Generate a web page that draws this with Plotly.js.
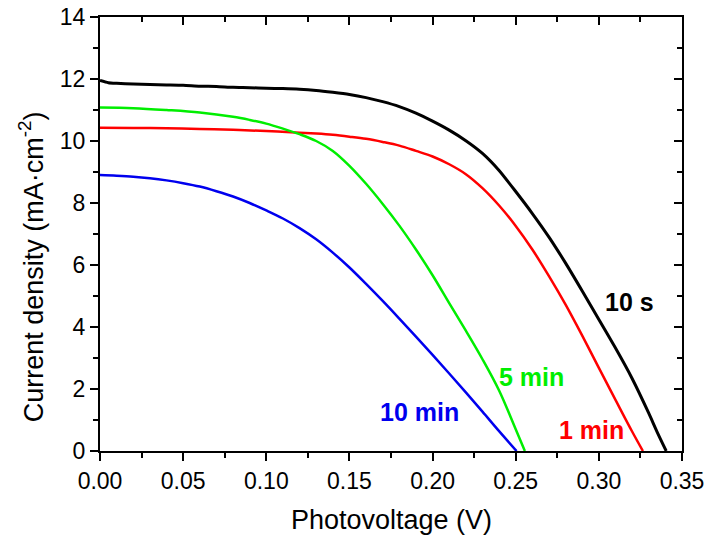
<!DOCTYPE html>
<html>
<head>
<meta charset="utf-8">
<script src="https://cdn.plot.ly/plotly-3.0.1.min.js"></script>
<style>html,body{margin:0;padding:0;background:#fff;}#chart{width:709px;height:540px;}</style>
</head>
<body>
<div id="chart"></div>
<script>
// 10 s (black)
const v10s = [0, 0.005, 0.01, 0.02, 0.03, 0.04, 0.05, 0.06, 0.07, 0.08, 0.09, 0.10, 0.11, 0.12, 0.13, 0.14, 0.15, 0.16, 0.17, 0.18, 0.19, 0.20, 0.21, 0.22, 0.23, 0.24, 0.25, 0.26, 0.27, 0.28, 0.29, 0.30, 0.31, 0.32, 0.33, 0.335, 0.3405];
const j10s = [11.95, 11.88, 11.86, 11.84, 11.82, 11.81, 11.80, 11.77, 11.76, 11.73, 11.72, 11.70, 11.69, 11.67, 11.63, 11.57, 11.50, 11.40, 11.27, 11.11, 10.90, 10.64, 10.35, 10.01, 9.60, 9.05, 8.37, 7.66, 6.90, 6.06, 5.16, 4.24, 3.32, 2.34, 1.22, 0.62, 0];
// 1 min (red)
const v1m = [0, 0.02, 0.04, 0.06, 0.08, 0.10, 0.12, 0.13, 0.14, 0.15, 0.16, 0.17, 0.18, 0.19, 0.20, 0.21, 0.22, 0.23, 0.24, 0.25, 0.26, 0.27, 0.28, 0.29, 0.30, 0.31, 0.32, 0.3265];
const j1m = [10.43, 10.42, 10.41, 10.39, 10.36, 10.32, 10.27, 10.24, 10.20, 10.14, 10.07, 9.97, 9.85, 9.68, 9.50, 9.25, 8.93, 8.48, 7.92, 7.26, 6.50, 5.64, 4.72, 3.72, 2.68, 1.65, 0.63, 0];
// 5 min (green)
const v5m = [0, 0.02, 0.04, 0.06, 0.08, 0.09, 0.10, 0.11, 0.12, 0.13, 0.14, 0.15, 0.16, 0.17, 0.18, 0.19, 0.20, 0.21, 0.22, 0.23, 0.24, 0.25, 0.2555];
const j5m = [11.08, 11.06, 11.00, 10.92, 10.78, 10.68, 10.56, 10.40, 10.22, 10.00, 9.68, 9.20, 8.62, 7.97, 7.27, 6.50, 5.67, 4.77, 3.88, 2.96, 1.95, 0.70, 0];
// 10 min (blue)
const v10m = [0, 0.01, 0.02, 0.03, 0.04, 0.05, 0.06, 0.07, 0.08, 0.09, 0.10, 0.11, 0.12, 0.13, 0.14, 0.15, 0.16, 0.17, 0.18, 0.19, 0.20, 0.21, 0.22, 0.23, 0.24, 0.2505];
const j10m = [8.90, 8.88, 8.85, 8.80, 8.73, 8.64, 8.53, 8.38, 8.21, 8.00, 7.76, 7.50, 7.19, 6.83, 6.40, 5.92, 5.39, 4.84, 4.27, 3.69, 3.10, 2.50, 1.89, 1.27, 0.64, 0];

const labels = ["10 s", "5 min", "10 min", "1 min"];
const labelColors = ["#000000", "#00ee00", "#0000ee", "#ff0000"];
const labelX = [0.3185, 0.2596, 0.1923, 0.2957];
const labelY = [4.8, 2.39, 1.26, 0.68];

const xTitle = "Photovoltage (V)";
const yTitle = "Current density (mA·cm<sup>-2</sup>)";

const FONT = "Arial, 'Liberation Sans', sans-serif";

const traces = [
  {x: v10s, y: j10s, mode: 'lines', line: {color: '#000000', width: 3, shape: 'spline', smoothing: 0.6}, showlegend: false},
  {x: v1m, y: j1m, mode: 'lines', line: {color: '#ff0000', width: 2.5, shape: 'spline'}, showlegend: false},
  {x: v5m, y: j5m, mode: 'lines', line: {color: '#00ee00', width: 2.5, shape: 'spline'}, showlegend: false},
  {x: v10m, y: j10m, mode: 'lines', line: {color: '#0000ee', width: 2.5, shape: 'spline'}, showlegend: false},
  {x: [null], y: [null], xaxis: 'x2', yaxis: 'y2', showlegend: false, hoverinfo: 'skip'}
];

const annotations = labels.map((t, i) => ({
  x: labelX[i], y: labelY[i], xref: 'x', yref: 'y', text: '<b>' + t + '</b>', showarrow: false,
  font: {family: FONT, size: 25, color: labelColors[i]}, xanchor: 'center', yanchor: 'middle'
}));
annotations.push({
  xref: 'paper', yref: 'paper', x: 0.501, y: -0.159, text: xTitle, showarrow: false,
  font: {family: FONT, size: 27, color: '#000'}, xanchor: 'center', yanchor: 'middle'
});
annotations.push({
  xref: 'paper', yref: 'paper', x: -0.118, y: 0.424, text: yTitle, showarrow: false, textangle: -90,
  font: {family: FONT, size: 27, color: '#000'}, xanchor: 'center', yanchor: 'middle'
});

const common = {showgrid: false, zeroline: false, showline: true, linewidth: 2, linecolor: '#000',
  tickwidth: 2, tickcolor: '#000', ticklen: 8};

const layout = {
  width: 709, height: 540,
  margin: {l: 100, r: 26.5, t: 17, b: 89},
  paper_bgcolor: '#fff', plot_bgcolor: '#fff',
  font: {family: FONT, size: 23, color: '#000'},
  xaxis: Object.assign({}, common, {range: [0, 0.35], dtick: 0.05, tick0: 0, tickformat: '.2f', ticks: 'outside',
    minor: {dtick: 0.025, ticklen: 5, tickwidth: 2, tickcolor: '#000', ticks: 'outside'},
    tickfont: {family: FONT, size: 23, color: '#000'}}),
  yaxis: Object.assign({}, common, {range: [0, 14], dtick: 2, tick0: 0, ticks: 'outside',
    minor: {dtick: 1, ticklen: 5, tickwidth: 2, tickcolor: '#000', ticks: 'outside'},
    tickfont: {family: FONT, size: 23, color: '#000'}}),
  xaxis2: Object.assign({}, common, {range: [0, 0.35], dtick: 0.05, tick0: 0, overlaying: 'x', side: 'top', ticks: 'inside',
    showticklabels: false, minor: {dtick: 0.025, ticklen: 5, tickwidth: 2, tickcolor: '#000', ticks: 'inside'}}),
  yaxis2: Object.assign({}, common, {range: [0, 14], dtick: 2, tick0: 0, overlaying: 'y', side: 'right', ticks: 'inside',
    showticklabels: false, minor: {dtick: 1, ticklen: 5, tickwidth: 2, tickcolor: '#000', ticks: 'inside'}}),
  annotations: annotations
};

Plotly.newPlot('chart', traces, layout, {displayModeBar: false, staticPlot: true});
</script>
</body>
</html>
